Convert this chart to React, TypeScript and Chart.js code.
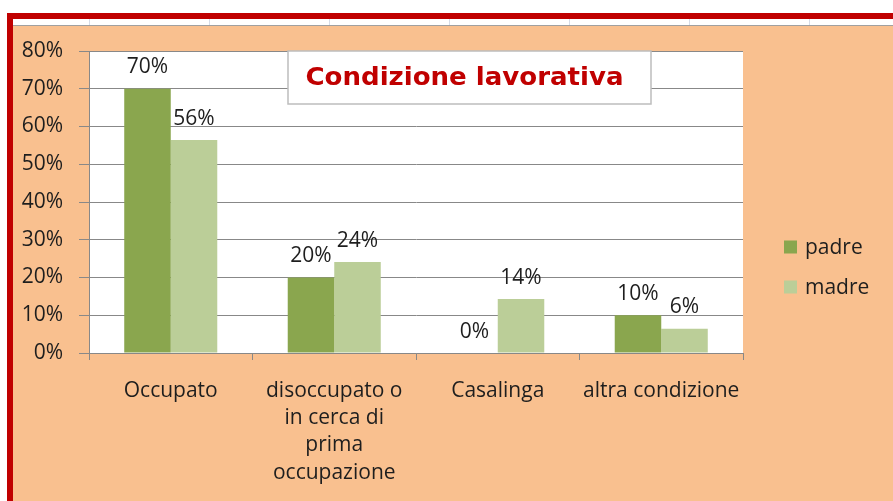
import React, { useEffect, useRef } from "react";
import { Chart, registerables } from "chart.js";

Chart.register(...registerables);

// ---- data ----
const categories: string[][] = [
  ["Occupato"],
  ["disoccupato o", "in cerca di", "prima", "occupazione"],
  ["Casalinga"],
  ["altra condizione"],
];
const seriesNames = ["padre", "madre"];
const padreValues = [70, 20, 0, 10];
const madreValues = [56.4, 24.1, 14.3, 6.4];
const yMin = 0;
const yMax = 80;
const yStep = 10;
const titleText = "Condizione lavorativa";

// ---- styles ----
const FONT = "'Open Sans', sans-serif";
const TITLE_FONT = "'DejaVu Sans', sans-serif";
const PADRE_COLOR = "#8AA64E";
const MADRE_COLOR = "#BBCE98";
const ORANGE = "#F9C08F";
const RED = "#C00000";
const GRID = "#888888";
const TEXT = "#1E1E1E";

const bgPlugin = {
  id: "bg",
  beforeDraw(chart: any) {
    const { ctx, width, height, chartArea } = chart;
    ctx.save();
    ctx.fillStyle = "#ffffff";
    ctx.fillRect(0, 0, width, height);
    ctx.fillStyle = ORANGE;
    ctx.fillRect(13, 26, width - 13, height - 26);
    // spreadsheet cell lines
    ctx.strokeStyle = "#D5DCE8";
    ctx.lineWidth = 1;
    for (let x = 89; x < width; x += 120) {
      ctx.beginPath();
      ctx.moveTo(x + 0.5, 19);
      ctx.lineTo(x + 0.5, 25);
      ctx.stroke();
    }
    ctx.strokeStyle = "#A0A0A0";
    ctx.beginPath();
    ctx.moveTo(13, 25.5);
    ctx.lineTo(width, 25.5);
    ctx.stroke();
    // red frame
    ctx.fillStyle = RED;
    ctx.fillRect(7, 13, width - 7, 6);
    ctx.fillRect(7, 13, 6, height - 13);
    // plot area
    ctx.fillStyle = "#ffffff";
    ctx.fillRect(
      chartArea.left,
      chartArea.top,
      chartArea.right - chartArea.left,
      chartArea.bottom - chartArea.top
    );
    ctx.restore();
  },
};

const overlayPlugin = {
  id: "overlay",
  afterDatasetsDraw(chart: any) {
    const { ctx, chartArea } = chart;
    ctx.save();
    // title box
    const bx = chartArea.left + 199;
    const by = chartArea.top;
    const bw = 363;
    const bh = 53;
    ctx.fillStyle = "#ffffff";
    ctx.fillRect(bx, by, bw, bh);
    ctx.strokeStyle = "#BDBDBD";
    ctx.lineWidth = 1.5;
    ctx.strokeRect(bx, by, bw, bh);
    ctx.font = `bold 24px ${TITLE_FONT}`;
    const w = ctx.measureText(titleText).width;
    ctx.translate(bx + bw / 2 - 5, by + 34);
    ctx.scale(318 / w, 1);
    ctx.fillStyle = RED;
    ctx.textAlign = "center";
    ctx.textBaseline = "alphabetic";
    ctx.fillText(titleText, 0, 0);
    ctx.restore();

    // data labels
    ctx.save();
    ctx.font = `21px ${FONT}`;
    ctx.fillStyle = TEXT;
    ctx.textAlign = "center";
    ctx.textBaseline = "alphabetic";
    chart.data.datasets.forEach((ds: any, i: number) => {
      const meta = chart.getDatasetMeta(i);
      meta.data.forEach((bar: any, j: number) => {
        const v = ds.data[j];
        ctx.fillText(`${Math.round(v)}%`, bar.x, bar.y - 15.5);
      });
    });
    ctx.restore();

    // legend
    ctx.save();
    const colors = [PADRE_COLOR, MADRE_COLOR];
    ctx.font = `21px ${FONT}`;
    ctx.textAlign = "left";
    ctx.textBaseline = "alphabetic";
    seriesNames.forEach((name, i) => {
      const cy = 247 + i * 40;
      const sx = chartArea.right + 41;
      ctx.fillStyle = colors[i];
      ctx.fillRect(sx, cy - 6.5, 13, 13);
      ctx.fillStyle = TEXT;
      ctx.fillText(name, sx + 21, cy + 7);
    });
    ctx.restore();
  },
};

export default function App() {
  const ref = useRef<HTMLCanvasElement | null>(null);
  useEffect(() => {
    if (!ref.current) return;
    const chart = new Chart(ref.current, {
      type: "bar",
      data: {
        labels: categories as any,
        datasets: [
          {
            label: seriesNames[0],
            data: padreValues,
            backgroundColor: PADRE_COLOR,
            borderWidth: 0,
            categoryPercentage: 0.569,
            barPercentage: 1,
          },
          {
            label: seriesNames[1],
            data: madreValues,
            backgroundColor: MADRE_COLOR,
            borderWidth: 0,
            categoryPercentage: 0.569,
            barPercentage: 1,
          },
        ],
      },
      options: {
        animation: false,
        responsive: false,
        maintainAspectRatio: false,
        layout: { padding: { left: 13, top: 51, right: 150, bottom: 0 } },
        plugins: {
          legend: { display: false },
          title: { display: false },
          tooltip: { enabled: false },
        },
        scales: {
          x: {
            grid: {
              offset: true,
              drawOnChartArea: false,
              drawTicks: true,
              tickLength: 7,
              color: GRID,
              lineWidth: 1,
            },
            border: { color: GRID, width: 1 },
            ticks: {
              font: { family: FONT, size: 21, lineHeight: 1.3 },
              color: TEXT,
              padding: 17,
              maxRotation: 0,
              autoSkip: false,
            },
            afterFit: (s: any) => {
              s.height = 148;
            },
          },
          y: {
            min: yMin,
            max: yMax,
            ticks: {
              stepSize: yStep,
              callback: (v: any) => `${v}%`,
              font: { family: FONT, size: 21 },
              color: TEXT,
              padding: 16,
            },
            grid: { color: GRID, tickLength: 10, lineWidth: 1 },
            border: { color: GRID, width: 1 },
            afterFit: (s: any) => {
              s.width = 76;
            },
          },
        },
      },
      plugins: [bgPlugin, overlayPlugin],
    });
    return () => chart.destroy();
  }, []);
  return (
    <div style={{ position: "fixed", left: 0, top: 0, width: 893, height: 501 }}>
      <canvas ref={ref} width={893} height={501} style={{ display: "block" }} />
    </div>
  );
}
